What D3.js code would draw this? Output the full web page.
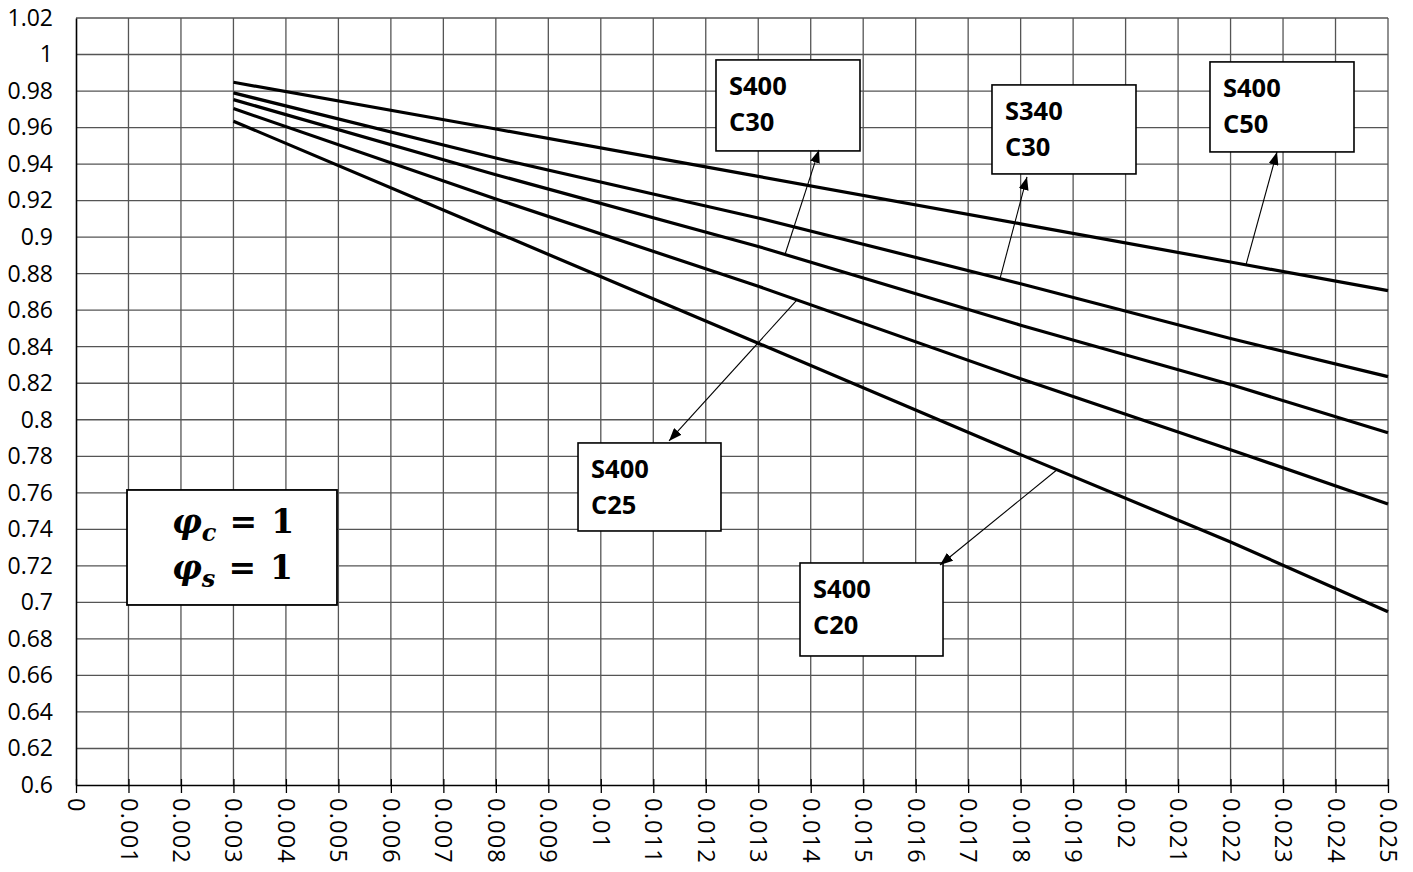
<!DOCTYPE html>
<html><head><meta charset="utf-8">
<script src="https://cdn.jsdelivr.net/npm/d3@7/dist/d3.min.js"></script>
<style>
html,body{margin:0;padding:0;background:#fff;}
svg{display:block;}
</style></head>
<body>
<svg id="chart" width="1413" height="872"></svg>
<script>
// ---- data ----
const xValues = [0.003, 0.008, 0.013, 0.018, 0.022, 0.025];
const seriesS400C50 = [0.9848, 0.9592, 0.9333, 0.9073, 0.8864, 0.8707];
const seriesS340C30 = [0.9790, 0.9433, 0.9105, 0.8745, 0.8445, 0.8236];
const seriesS400C30 = [0.9753, 0.9342, 0.8949, 0.8518, 0.8193, 0.7929];
const seriesS400C25 = [0.9704, 0.9209, 0.8731, 0.8224, 0.7836, 0.7539];
const seriesS400C20 = [0.9635, 0.9027, 0.8419, 0.7809, 0.7331, 0.6949];
const seriesNames = ["S400 C50", "S340 C30", "S400 C30", "S400 C25", "S400 C20"];

const xTickValues = d3.range(0, 26).map(i => i / 1000);
const xTickLabels = ["0","0.001","0.002","0.003","0.004","0.005","0.006","0.007","0.008","0.009",
  "0.01","0.011","0.012","0.013","0.014","0.015","0.016","0.017","0.018","0.019",
  "0.02","0.021","0.022","0.023","0.024","0.025"];
const yTickValues = d3.range(0, 22).map(i => +(0.6 + i * 0.02).toFixed(2));
const yTickLabels = ["0.6","0.62","0.64","0.66","0.68","0.7","0.72","0.74","0.76","0.78","0.8",
  "0.82","0.84","0.86","0.88","0.9","0.92","0.94","0.96","0.98","1","1.02"];

// label boxes: [xLeft, yTop, xRight, yBottom] in data units; arrow tip (data) and anchor x on series
const labelLines = [["S400","C50"],["S340","C30"],["S400","C30"],["S400","C25"],["S400","C20"]];
const labelBoxes = [
  [0.021608, 0.99595, 0.024352, 0.94666],
  [0.017454, 0.98335, 0.020198, 0.93461],
  [0.012195, 0.99704, 0.014939, 0.94721],
  [0.009566, 0.78730, 0.012290, 0.73910],
  [0.013796, 0.72158, 0.016521, 0.67065]
];
const arrowTips = [[0.022885, 0.94666],[0.018121, 0.93297],[0.014158, 0.94776],[0.011300, 0.78839],[0.016463, 0.72048]];
const arrowAnchorX = [0.022294, 0.017607, 0.013510, 0.013739, 0.018693];
const phiBox = [0.000972, 0.76156, 0.004973, 0.69858];

// ---- setup ----
const svg = d3.select("#chart");
const L = 76, R = 1388, T = 18, B = 785;
const x = d3.scaleLinear().domain([0, 0.025]).range([L, R]);
const y = d3.scaleLinear().domain([0.6, 1.02]).range([B, T]);
const FONT = "'Open Sans', 'Liberation Sans', sans-serif";

// grid
const grid = svg.append("g");
grid.selectAll("line.v").data(xTickValues.slice(1)).join("line")
  .attr("x1", d => x(d)).attr("x2", d => x(d)).attr("y1", T).attr("y2", B)
  .attr("stroke", "#555").attr("stroke-width", 1.3);
grid.selectAll("line.h").data(yTickValues.slice(1)).join("line")
  .attr("x1", L).attr("x2", R).attr("y1", d => y(d)).attr("y2", d => y(d))
  .attr("stroke", "#555").attr("stroke-width", 1.3);

// x axis
const xAxis = d3.axisBottom(x).tickValues(xTickValues).tickSize(8).tickSizeOuter(0)
  .tickFormat((d, i) => xTickLabels[i]);
const gx = svg.append("g").attr("transform", `translate(0,${B})`).call(xAxis);
gx.select(".domain").attr("stroke", "#000").attr("stroke-width", 1.6);
gx.selectAll(".tick line").attr("stroke", "#000").attr("stroke-width", 1.3).attr("y1", -6);
gx.selectAll(".tick text")
  .attr("font-family", FONT).attr("font-size", 23.5).attr("fill", "#000")
  .attr("letter-spacing", "1.2px")
  .attr("text-anchor", "start")
  .attr("transform", "rotate(90)")
  .attr("x", 13).attr("y", 0).attr("dy", "0.36em");

// y axis
const yAxis = d3.axisLeft(y).tickValues(yTickValues).tickSize(0).tickPadding(23)
  .tickFormat((d, i) => yTickLabels[i]);
const gy = svg.append("g").attr("transform", `translate(${L},0)`).call(yAxis);
gy.select(".domain").attr("stroke", "#000").attr("stroke-width", 1.6);
gy.selectAll(".tick text").attr("font-family", FONT).attr("font-size", 23).attr("fill", "#000");

// series
const allSeries = [seriesS400C50, seriesS340C30, seriesS400C30, seriesS400C25, seriesS400C20];
const line = d3.line().x(d => x(d[0])).y(d => y(d[1]));
svg.append("g").selectAll("path").data(allSeries).join("path")
  .attr("d", s => line(s.map((v, i) => [xValues[i], v])))
  .attr("fill", "none").attr("stroke", "#000").attr("stroke-width", 3.2)
  .attr("stroke-linejoin", "round").attr("stroke-linecap", "butt");

// arrow marker
svg.append("defs").append("marker")
  .attr("id", "ah").attr("markerUnits", "userSpaceOnUse")
  .attr("markerWidth", 14).attr("markerHeight", 10)
  .attr("refX", 13).attr("refY", 5).attr("orient", "auto")
  .append("path").attr("d", "M0,0 L13,5 L0,10 Z").attr("fill", "#000");

function interp(series, xv) {
  for (let i = 0; i < xValues.length - 1; i++) {
    if (xv >= xValues[i] && xv <= xValues[i + 1]) {
      const t = (xv - xValues[i]) / (xValues[i + 1] - xValues[i]);
      return series[i] + t * (series[i + 1] - series[i]);
    }
  }
  return series[series.length - 1];
}

// label boxes and arrows
const ann = svg.append("g");
labelBoxes.forEach((b, i) => {
  const x0 = x(b[0]), y0 = y(b[1]), x1 = x(b[2]), y1 = y(b[3]);
  ann.append("rect").attr("x", x0).attr("y", y0).attr("width", x1 - x0).attr("height", y1 - y0)
    .attr("fill", "#fff").attr("stroke", "#000").attr("stroke-width", 1.6);
  labelLines[i].forEach((t, j) => {
    ann.append("text").attr("x", x0 + 13).attr("y", y0 + 35 + j * 36)
      .attr("font-family", FONT).attr("font-weight", 700).attr("font-size", 25.5)
      .attr("fill", "#000").text(t);
  });
  const ax = arrowAnchorX[i];
  const ay = interp(allSeries[i], ax);
  ann.append("line").attr("x1", x(ax)).attr("y1", y(ay))
    .attr("x2", x(arrowTips[i][0])).attr("y2", y(arrowTips[i][1]))
    .attr("stroke", "#000").attr("stroke-width", 1.1).attr("marker-end", "url(#ah)");
});

// phi box
{
  const x0 = x(phiBox[0]), y0 = y(phiBox[1]), x1 = x(phiBox[2]), y1 = y(phiBox[3]);
  ann.append("rect").attr("x", x0).attr("y", y0).attr("width", x1 - x0).attr("height", y1 - y0)
    .attr("fill", "#fff").attr("stroke", "#000").attr("stroke-width", 1.8);
  const rows = [["c", 43], ["s", 89]];
  rows.forEach(([sub, off]) => {
    const t = ann.append("text").attr("x", x0 + 45).attr("y", y0 + off)
      .attr("font-family", "'DejaVu Serif', serif").attr("font-weight", 700)
      .attr("font-size", 33).attr("fill", "#000");
    t.append("tspan").attr("font-style", "italic").text("φ");
    t.append("tspan").attr("font-style", "italic").attr("font-size", 24).attr("dy", 8).text(sub);
    t.append("tspan").attr("dy", -8).attr("dx", 13).text("=");
    t.append("tspan").attr("dx", 14).text("1");
  });
}
</script>
</body></html>
